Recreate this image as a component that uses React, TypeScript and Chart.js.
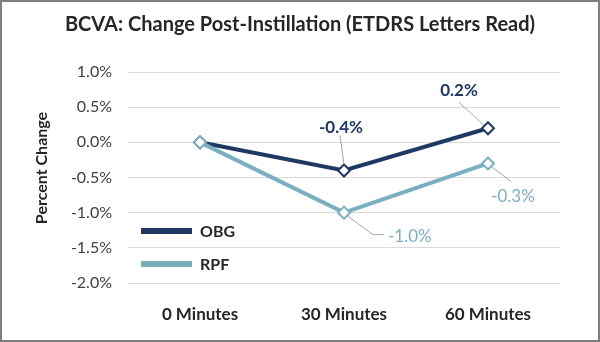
import React, { useEffect, useRef } from "react";
import { Chart, registerables } from "chart.js";

Chart.register(...registerables);

const titleText = "BCVA: Change Post-Instillation (ETDRS Letters Read)";
const yAxisTitle = "Percent Change";
const categories = ["0 Minutes", "30 Minutes", "60 Minutes"];
const obgValues = [0, -0.4, 0.2];
const rpfValues = [0, -1.0, -0.3];
const yMin = -2.0;
const yMax = 1.0;
const yStep = 0.5;

const OBG_COLOR = "#203864";
const RPF_COLOR = "#7AAFBF";
const FONT = "Lato, 'Open Sans', sans-serif";

// label placement per dataset/point (pixel offsets from point), and leader paths
const labelStyle: Record<string, any> = {
  OBG: {
    bold: true,
    items: {
      1: { dx: -3, dy: -43, align: "center", path: [[-4, -35], [0, -6]] },
      2: { dx: -29, dy: -38, align: "center", path: [[-29, -26], [-4, -3]] },
    },
  },
  RPF: {
    bold: false,
    items: {
      1: { dx: 44, dy: 24, align: "left", path: [[3, 3], [29, 22], [40, 22]] },
      2: { dx: 25, dy: 33, align: "center", path: [[3, 3], [23, 18]] },
    },
  },
};

const framePlugin = {
  id: "frame",
  beforeDraw(chart: any) {
    const { ctx, width, height } = chart;
    ctx.save();
    ctx.fillStyle = "#ffffff";
    ctx.fillRect(0, 0, width, height);
    ctx.restore();
  },
  afterDraw(chart: any) {
    const { ctx, width, height } = chart;
    ctx.save();
    ctx.strokeStyle = "#7f7f7f";
    ctx.lineWidth = 2;
    ctx.strokeRect(1, 1, width - 2, height - 2);
    ctx.restore();
  },
};

const extrasPlugin = {
  id: "extras",
  afterDatasetsDraw(chart: any) {
    const { ctx, width } = chart;
    // chart title
    ctx.save();
    ctx.fillStyle = "#262626";
    ctx.font = `bold 20px ${FONT}`;
    ctx.textAlign = "center";
    ctx.textBaseline = "middle";
    ctx.fillText(titleText, width / 2, 25);
    ctx.restore();

    ctx.save();
    // y axis title
    ctx.translate(42, 168);
    ctx.rotate(-Math.PI / 2);
    ctx.fillStyle = "#262626";
    ctx.font = `bold 16px ${FONT}`;
    ctx.textAlign = "center";
    ctx.textBaseline = "middle";
    ctx.fillText(yAxisTitle, 0, 0);
    ctx.restore();

    // data labels with leader lines
    chart.data.datasets.forEach((ds: any, di: number) => {
      const style = labelStyle[ds.label];
      if (!style) return;
      const meta = chart.getDatasetMeta(di);
      meta.data.forEach((pt: any, i: number) => {
        const item = style.items[i];
        if (!item) return;
        const x = pt.x;
        const y = pt.y;
        ctx.save();
        ctx.strokeStyle = "#a6a6a6";
        ctx.lineWidth = 1;
        ctx.beginPath();
        item.path.forEach((p: number[], k: number) => {
          if (k === 0) ctx.moveTo(x + p[0], y + p[1]);
          else ctx.lineTo(x + p[0], y + p[1]);
        });
        ctx.stroke();
        ctx.fillStyle = ds.borderColor;
        ctx.font = `${style.bold ? "bold " : ""}17px ${FONT}`;
        ctx.textAlign = item.align;
        ctx.textBaseline = "middle";
        ctx.fillText(ds.data[i].toFixed(1) + "%", x + item.dx, y + item.dy);
        ctx.restore();
      });
    });

    // legend inside chart area
    const legendItems = [
      { idx: 0, y: 231 },
      { idx: 1, y: 264 },
    ];
    legendItems.forEach((li) => {
      const ds = chart.data.datasets[li.idx];
      ctx.save();
      ctx.strokeStyle = ds.borderColor;
      ctx.lineWidth = 6;
      ctx.beginPath();
      ctx.moveTo(141, li.y);
      ctx.lineTo(192, li.y);
      ctx.stroke();
      ctx.fillStyle = "#262626";
      ctx.font = `bold 16px ${FONT}`;
      ctx.textAlign = "left";
      ctx.textBaseline = "middle";
      ctx.fillText(ds.label, 200, li.y + 1);
      ctx.restore();
    });
  },
};

export default function App() {
  const canvasRef = useRef<HTMLCanvasElement | null>(null);

  useEffect(() => {
    if (!canvasRef.current) return;
    const chart = new Chart(canvasRef.current, {
      type: "line",
      data: {
        labels: categories,
        datasets: [
          {
            label: "OBG",
            data: obgValues,
            borderColor: OBG_COLOR,
            backgroundColor: "#ffffff",
            borderWidth: 4,
            pointStyle: "rectRot",
            pointRadius: 6,
            pointBorderWidth: 2,
            pointBackgroundColor: "#ffffff",
            pointBorderColor: OBG_COLOR,
            tension: 0,
            order: 1,
          },
          {
            label: "RPF",
            data: rpfValues,
            borderColor: RPF_COLOR,
            backgroundColor: "#ffffff",
            borderWidth: 4,
            pointStyle: "rectRot",
            pointRadius: 6,
            pointBorderWidth: 2,
            pointBackgroundColor: "#ffffff",
            pointBorderColor: RPF_COLOR,
            tension: 0,
            order: 0,
          },
        ],
      },
      options: {
        animation: false,
        responsive: false,
        maintainAspectRatio: false,
        layout: { padding: { left: 0, right: 40, top: 72, bottom: 0 } },
        plugins: {
          legend: { display: false },
          tooltip: { enabled: false },
          title: { display: false },
        },
        scales: {
          x: {
            offset: true,
            grid: { display: false },
            border: { display: false },
            ticks: {
              color: "#262626",
              font: { family: FONT, size: 17, weight: "bold" },
              padding: 13,
            },
            afterFit(scale: any) {
              scale.height = 59;
            },
          },
          y: {
            min: yMin,
            max: yMax,
            grid: { color: "#d9d9d9", lineWidth: 1, drawTicks: false },
            border: { display: false },
            ticks: {
              stepSize: yStep,
              color: "#404040",
              font: { family: FONT, size: 16 },
              padding: 16,
              callback: (v: any) => Number(v).toFixed(1) + "%",
            },
            afterFit(scale: any) {
              scale.width = 128;
            },
          },
        },
      },
      plugins: [framePlugin, extrasPlugin],
    });
    return () => chart.destroy();
  }, []);

  return (
    <div style={{ position: "fixed", left: 0, top: 0, width: 600, height: 342, background: "#fff" }}>
      <canvas ref={canvasRef} width={600} height={342} style={{ display: "block", width: 600, height: 342 }} />
    </div>
  );
}
